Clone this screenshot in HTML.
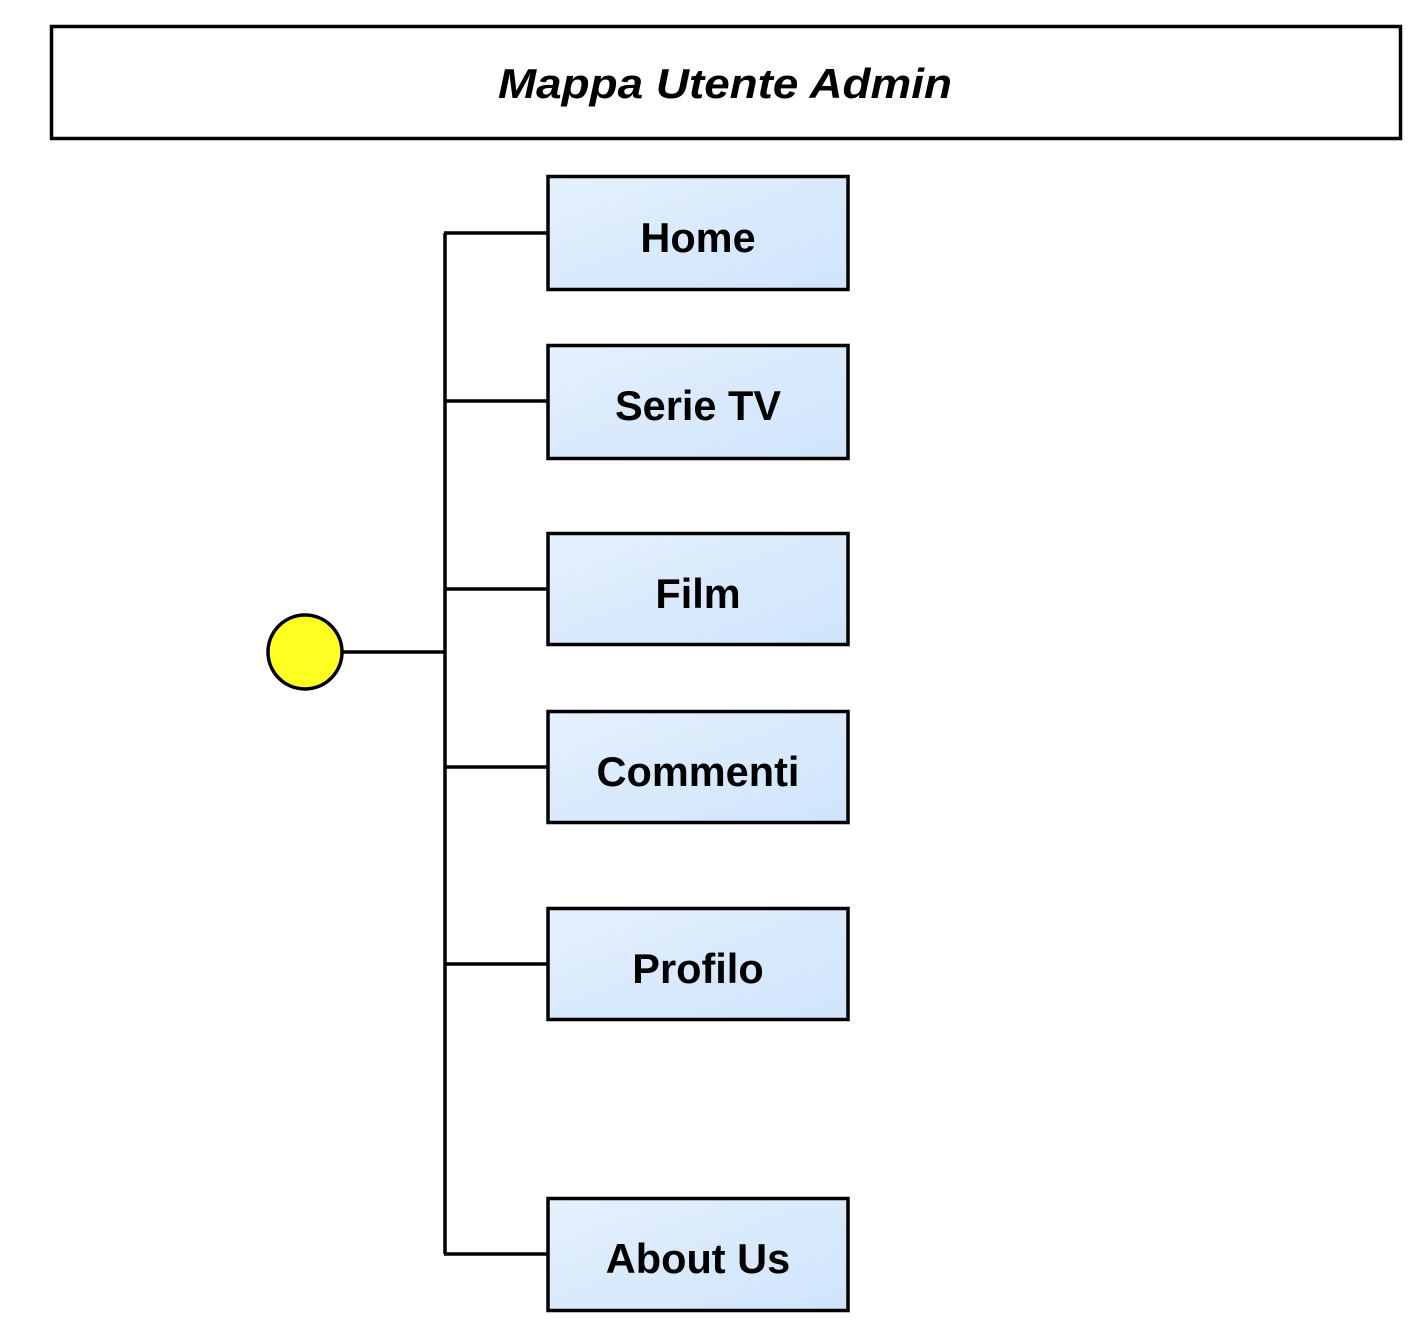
<!DOCTYPE html>
<html><head><meta charset="utf-8"><style>html,body{margin:0;padding:0;background:#fff}svg{display:block}</style></head>
<body>
<svg width="1418" height="1337" viewBox="0 0 1418 1337" xmlns="http://www.w3.org/2000/svg" font-family="Liberation Sans, Arial, sans-serif">
<defs><linearGradient id="g" x1="0" y1="0" x2="1" y2="1"><stop offset="0" stop-color="#e4f0fd"/><stop offset="1" stop-color="#cfe4fc"/></linearGradient></defs>
<rect x="51.5" y="26.5" width="1349" height="112" fill="#fff" stroke="#000" stroke-width="3.5"/>
<text x="725" y="98" text-anchor="middle" font-size="42" font-weight="bold" font-style="italic" textLength="454" lengthAdjust="spacingAndGlyphs">Mappa Utente Admin</text>
<g stroke="#000" stroke-width="3.5" fill="none">
<line x1="445" y1="233" x2="445" y2="1254"/>
<line x1="343" y1="652" x2="445" y2="652"/>
<line x1="444" y1="233" x2="548" y2="233"/>
<line x1="444" y1="401" x2="548" y2="401"/>
<line x1="444" y1="589" x2="548" y2="589"/>
<line x1="444" y1="767" x2="548" y2="767"/>
<line x1="444" y1="964" x2="548" y2="964"/>
<line x1="444" y1="1254" x2="548" y2="1254"/>
</g>
<circle cx="305" cy="652" r="37" fill="#ffff22" stroke="#000" stroke-width="3.5"/>
<g stroke="#000" stroke-width="3.5" fill="url(#g)">
<rect x="548" y="176.5" width="300" height="113"/>
<rect x="548" y="345.5" width="300" height="113"/>
<rect x="548" y="533.5" width="300" height="111"/>
<rect x="548" y="711.5" width="300" height="111"/>
<rect x="548" y="908.5" width="300" height="111"/>
<rect x="548" y="1198.5" width="300" height="112"/>
</g>
<g font-size="41.5" font-weight="bold" text-anchor="middle" fill="#000">
<text x="698" y="252">Home</text>
<text x="698" y="420">Serie TV</text>
<text x="698" y="608">Film</text>
<text x="698" y="786">Commenti</text>
<text x="698" y="983">Profilo</text>
<text x="698" y="1273">About Us</text>
</g>
</svg>
</body></html>
